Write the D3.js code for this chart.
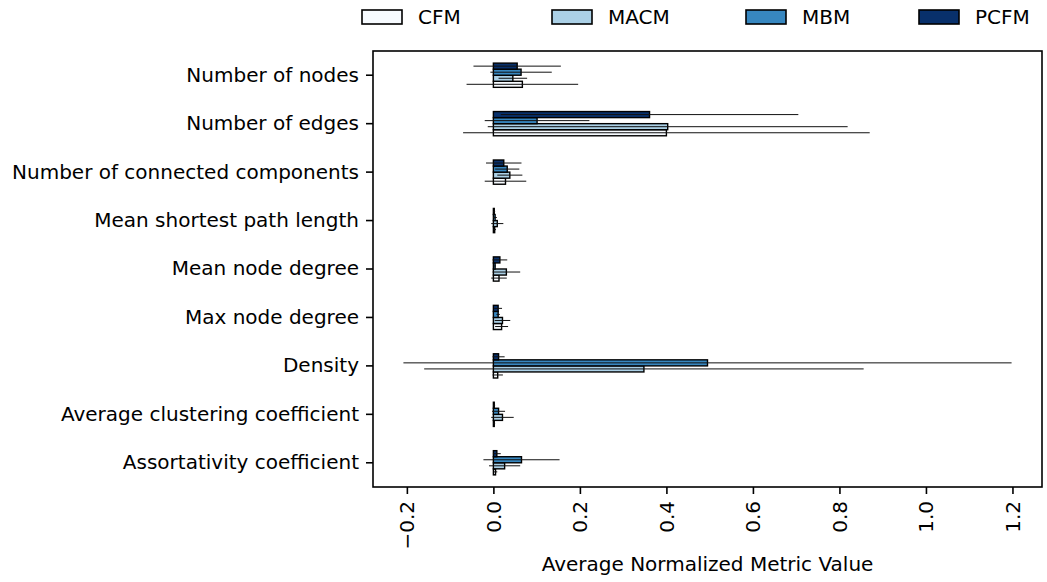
<!DOCTYPE html>
<html>
<head>
<meta charset="utf-8">
<script src="https://cdn.jsdelivr.net/npm/d3@7"></script>
<style>
  html, body { margin: 0; padding: 0; background: #fff; }
  svg { display: block; font-family: "DejaVu Sans", sans-serif; }
</style>
</head>
<body>
<svg id="chart" width="1047" height="582"></svg>
<script>
const categories = [
  "Number of nodes",
  "Number of edges",
  "Number of connected components",
  "Mean shortest path length",
  "Mean node degree",
  "Max node degree",
  "Density",
  "Average clustering coefficient",
  "Assortativity coefficient"
];
const seriesNames = ["CFM", "MACM", "MBM", "PCFM"];
const seriesColors = ["#f7fbff", "#abd0e6", "#3787c0", "#08306b"];

const cfmValues  = [0.067, 0.400, 0.028, 0.003, 0.013, 0.019, 0.010, 0.002, 0.005];
const cfmErrors  = [0.129, 0.470, 0.048, 0.003, 0.018, 0.015, 0.012, 0.002, 0.004];
const macmValues = [0.045, 0.403, 0.038, 0.009, 0.030, 0.021, 0.348, 0.021, 0.026];
const macmErrors = [0.033, 0.416, 0.029, 0.014, 0.032, 0.018, 0.508, 0.026, 0.036];
const mbmValues  = [0.064, 0.101, 0.032, 0.004, 0.004, 0.011, 0.495, 0.012, 0.065];
const mbmErrors  = [0.071, 0.121, 0.028, 0.004, 0.002, 0.004, 0.703, 0.015, 0.088];
const pcfmValues = [0.055, 0.361, 0.024, 0.002, 0.015, 0.011, 0.012, 0.002, 0.008];
const pcfmErrors = [0.101, 0.344, 0.041, 0.002, 0.017, 0.009, 0.014, 0.002, 0.009];

const xTickValues = [-0.2, 0.0, 0.2, 0.4, 0.6, 0.8, 1.0, 1.2];
const xAxisTitle = "Average Normalized Metric Value";

const series = [
  { name: seriesNames[0], color: seriesColors[0], values: cfmValues,  errors: cfmErrors },
  { name: seriesNames[1], color: seriesColors[1], values: macmValues, errors: macmErrors },
  { name: seriesNames[2], color: seriesColors[2], values: mbmValues,  errors: mbmErrors },
  { name: seriesNames[3], color: seriesColors[3], values: pcfmValues, errors: pcfmErrors }
];

const svg = d3.select("#chart");
const plot = { left: 373, right: 1042, top: 51, bottom: 487 };
const FONT = 20;

// x domain with 5% margins around error extents
let lo = Infinity, hi = -Infinity;
series.forEach(s => s.values.forEach((v, i) => {
  lo = Math.min(lo, v - s.errors[i], 0);
  hi = Math.max(hi, v + s.errors[i], 0);
}));
const span = hi - lo;
const x = d3.scaleLinear().domain([lo - 0.05 * span, hi + 0.05 * span]).range([plot.left, plot.right]);

const y = d3.scaleBand().domain(categories).range([plot.top, plot.bottom]).paddingInner(0).paddingOuter(0);
const groupH = y.step() * 0.5;
// inner band: top = last series (PCFM), bottom = first (CFM)
const inner = d3.scaleBand().domain(seriesNames.slice().reverse()).range([-groupH / 2, groupH / 2]);

// bars + error bars
series.forEach(s => {
  const g = svg.append("g");
  g.selectAll("rect").data(s.values).join("rect")
    .attr("x", d => Math.min(x(0), x(d)))
    .attr("y", (d, i) => y(categories[i]) + y.bandwidth() / 2 + inner(s.name))
    .attr("width", d => Math.abs(x(d) - x(0)))
    .attr("height", inner.bandwidth())
    .attr("fill", s.color)
    .attr("stroke", "#000")
    .attr("stroke-width", 1.4);
  g.selectAll("line").data(s.values).join("line")
    .attr("x1", (d, i) => x(d - s.errors[i]))
    .attr("x2", (d, i) => x(d + s.errors[i]))
    .attr("y1", (d, i) => y(categories[i]) + y.bandwidth() / 2 + inner(s.name) + inner.bandwidth() / 2)
    .attr("y2", (d, i) => y(categories[i]) + y.bandwidth() / 2 + inner(s.name) + inner.bandwidth() / 2)
    .attr("stroke", "#111")
    .attr("stroke-width", 1);
});

// frame
svg.append("rect")
  .attr("x", plot.left).attr("y", plot.top)
  .attr("width", plot.right - plot.left).attr("height", plot.bottom - plot.top)
  .attr("fill", "none").attr("stroke", "#000").attr("stroke-width", 1.6);

// y axis
const yAxis = d3.axisLeft(y).tickSize(7).tickPadding(7);
const yg = svg.append("g").attr("transform", `translate(${plot.left},0)`).call(yAxis);
yg.select(".domain").remove();
yg.selectAll(".tick line").attr("stroke", "#000").attr("stroke-width", 1.6);
yg.selectAll(".tick text").attr("font-size", FONT).attr("fill", "#000")
  .attr("font-family", "DejaVu Sans, sans-serif");

// x axis
const xAxis = d3.axisBottom(x).tickValues(xTickValues).tickFormat(d3.format(".1f")).tickSize(7).tickPadding(7);
const xg = svg.append("g").attr("transform", `translate(0,${plot.bottom})`).call(xAxis);
xg.select(".domain").remove();
xg.selectAll(".tick line").attr("stroke", "#000").attr("stroke-width", 1.6);
xg.selectAll(".tick text")
  .attr("font-size", FONT).attr("fill", "#000")
  .attr("font-family", "DejaVu Sans, sans-serif")
  .attr("transform", "rotate(-90)")
  .attr("x", -14).attr("y", 0).attr("dy", "0.35em")
  .attr("text-anchor", "end");

// x title
svg.append("text")
  .attr("x", (plot.left + plot.right) / 2).attr("y", 571)
  .attr("text-anchor", "middle").attr("font-size", FONT).attr("fill", "#000")
  .text(xAxisTitle);

// legend
const legendBoxX = [362, 552, 746, 919];
const legend = svg.append("g");
series.forEach((s, i) => {
  legend.append("rect")
    .attr("x", legendBoxX[i]).attr("y", 10)
    .attr("width", 40).attr("height", 14)
    .attr("fill", s.color).attr("stroke", "#000").attr("stroke-width", 1.6);
  legend.append("text")
    .attr("x", legendBoxX[i] + 56).attr("y", 24)
    .attr("font-size", FONT).attr("fill", "#000")
    .text(s.name);
});
</script>
</body>
</html>
